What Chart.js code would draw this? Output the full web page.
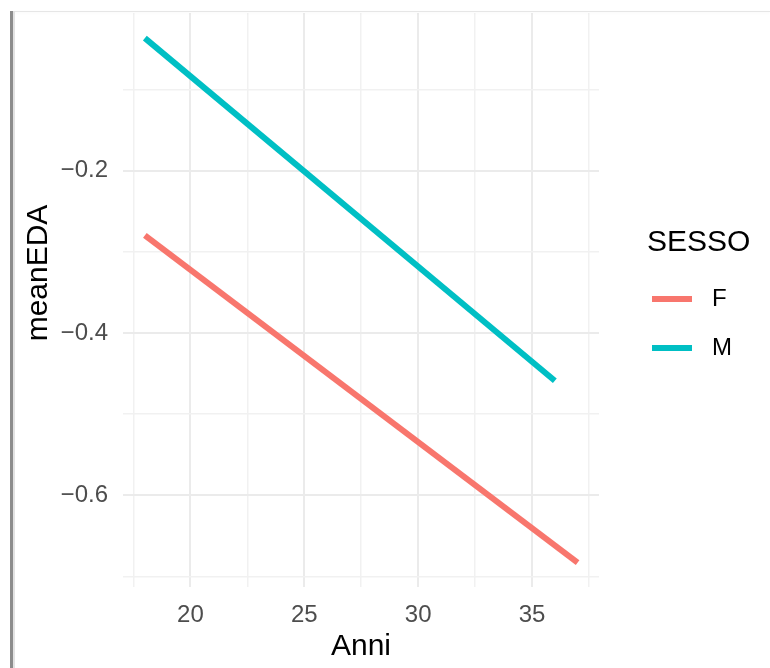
<!DOCTYPE html>
<html>
<head>
<meta charset="utf-8">
<script src="https://cdn.jsdelivr.net/npm/chart.js@4"></script>
<style>
  html, body { margin: 0; padding: 0; background: #fff; }
  #wrap { position: relative; width: 770px; height: 668px; overflow: hidden; }
  #c { position: absolute; left: 0; top: 0; }
  .frameL { position: absolute; left: 10px; top: 11px; width: 3px; height: 657px; background: #8c8c8c; }
  .frameL2 { position: absolute; left: 13px; top: 11px; width: 2px; height: 657px; background: #e2e2e2; }
  .frameT { position: absolute; left: 13px; top: 11px; right: 0; height: 1px; background: #e6e6e6; box-shadow: 0 1px 3px rgba(0,0,0,0.05); }
</style>
</head>
<body>
<div id="wrap">
  <canvas id="c" width="770" height="668"></canvas>
  <div class="frameT"></div>
  <div class="frameL2"></div>
  <div class="frameL"></div>
</div>
<script>
// ---- data ----
const groups = ['F', 'M'];
const anniF = [18, 37];
const edaF = [-0.280, -0.683];
const anniM = [18, 36];
const edaM = [-0.037, -0.459];
const xMajorTicks = [20, 25, 30, 35];
const yMajorTicks = [-0.6, -0.4, -0.2];
const xTitle = 'Anni';
const yTitle = 'meanEDA';
const legendTitle = 'SESSO';

const FONT = "'Liberation Sans', Arial, Helvetica, sans-serif";
const colF = '#F8766D';
const colM = '#00BFC4';

const toPts = (xs, ys) => xs.map((x, i) => ({ x: x, y: ys[i] }));
const isMajor = (v, list) => list.some(m => Math.abs(m - v) < 1e-6);
const fmtY = v => v.toFixed(1).replace('-', '\u2212');

// legend key swatch: a 40px line in a 48px wide box (ggplot-like key spacing)
function keySwatch(color) {
  const c = document.createElement('canvas');
  c.width = 48; c.height = 6;
  const g = c.getContext('2d');
  g.fillStyle = color;
  g.fillRect(0, 0, 40, 6);
  return c;
}

const layoutTweaks = {
  id: 'layoutTweaks',
  afterLayout(chart) {
    const lg = chart.legend;
    if (lg) {
      lg.left = 647; lg.right = 770; lg.width = 770 - 647;
      lg.top = 0; lg.bottom = 613; lg.height = 613;
    }
    const ys = chart.scales.y;
    if (ys && !ys._titleShifted) {
      const orig = ys.drawTitle;
      ys.drawTitle = function () {
        const ctx = this.ctx;
        ctx.save();
        ctx.translate(0, -27);
        orig.apply(this, arguments);
        ctx.restore();
      };
      ys._titleShifted = true;
    }
  }
};

new Chart(document.getElementById('c'), {
  type: 'line',
  data: {
    datasets: [
      { label: groups[0], data: toPts(anniF, edaF), borderColor: colF, backgroundColor: colF,
        borderWidth: 6, pointRadius: 0, pointHoverRadius: 0, fill: false, tension: 0 },
      { label: groups[1], data: toPts(anniM, edaM), borderColor: colM, backgroundColor: colM,
        borderWidth: 6, pointRadius: 0, pointHoverRadius: 0, fill: false, tension: 0 }
    ]
  },
  options: {
    responsive: false,
    animation: false,
    devicePixelRatio: 1,
    layout: { padding: { top: 13, right: 76, bottom: 0, left: 0 } },
    plugins: {
      tooltip: { enabled: false },
      legend: {
        position: 'right',
        align: 'center',
        title: {
          display: true, text: legendTitle, position: 'start', color: '#000',
          font: { family: FONT, size: 30 }, padding: { top: 0, bottom: 18 }
        },
        labels: {
          color: '#000',
          font: { family: FONT, size: 24, lineHeight: 44 / 24 },
          usePointStyle: true,
          pointStyleWidth: 48,
          padding: 5,
          generateLabels(chart) {
            const items = Chart.defaults.plugins.legend.labels.generateLabels(chart);
            items.forEach(it => {
              it.text = [it.text];
              it.pointStyle = keySwatch(it.strokeStyle);
            });
            return items;
          }
        }
      }
    },
    scales: {
      x: {
        type: 'linear',
        min: 17.04, max: 37.94,
        afterFit(s) { s.height = 81; s.paddingLeft = 0; s.paddingRight = 0; },
        border: { display: false },
        grid: {
          drawTicks: false,
          color: ctx => isMajor(ctx.tick.value, xMajorTicks) ? '#ebebeb' : '#f1f1f1',
          lineWidth: ctx => isMajor(ctx.tick.value, xMajorTicks) ? 2 : 1.5
        },
        ticks: {
          stepSize: 2.5, includeBounds: false, autoSkip: false, maxRotation: 0,
          padding: 14, color: '#4d4d4d', font: { family: FONT, size: 24 },
          callback: v => isMajor(v, xMajorTicks) ? String(v) : ''
        },
        title: { display: true, text: xTitle, color: '#000', font: { family: FONT, size: 30 },
                 padding: { top: 0, bottom: 3 } }
      },
      y: {
        type: 'linear',
        min: -0.713, max: -0.006,
        afterFit(s) { s.width = 123; s.paddingTop = 0; s.paddingBottom = 0; },
        border: { display: false },
        grid: {
          drawTicks: false,
          color: ctx => isMajor(ctx.tick.value, yMajorTicks) ? '#ebebeb' : '#f1f1f1',
          lineWidth: ctx => isMajor(ctx.tick.value, yMajorTicks) ? 2 : 1.5
        },
        ticks: {
          stepSize: 0.1, includeBounds: false, autoSkip: false,
          padding: 15, color: '#4d4d4d', font: { family: FONT, size: 24 },
          callback: v => isMajor(v, yMajorTicks) ? fmtY(v) : ''
        },
        title: { display: true, text: yTitle, color: '#000', font: { family: FONT, size: 30 },
                 padding: { top: 21, bottom: 0 } }
      }
    }
  },
  plugins: [layoutTweaks]
});
</script>
</body>
</html>
